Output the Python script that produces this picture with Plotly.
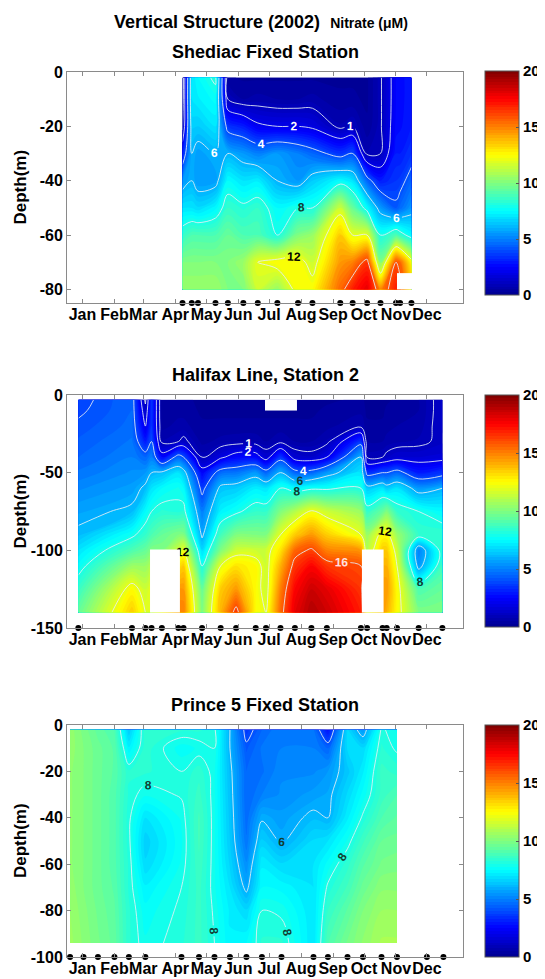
import plotly.graph_objects as go

# ---------------- shared ----------------
MONTHS = ["Jan", "Feb", "Mar", "Apr", "May", "Jun", "Jul", "Aug", "Sep", "Oct", "Nov", "Dec"]
MONTH_TICKS = [15, 46, 74, 105, 135, 166, 196, 227, 258, 288, 319, 349]  # day of year
LEVELS = [1, 2, 4, 6, 8, 12, 16]
CBAR_TICKS = [0, 5, 10, 15, 20]

# ---------------- Shediac Fixed Station ----------------
shediac_days = [112, 121, 127, 144, 156, 171, 185, 204, 224, 238, 265, 277, 291, 304, 319, 323, 334]
shediac_depths = [-2, -10, -20, -30, -40, -50, -60, -70, -80]
shediac_profiles = [
    [0.3, 0.4, 0.7, 3.0, 5.5, 7.0, 8.5, 10.0, 10.5],
    [7.0, 7.0, 6.6, 6.0, 6.0, 7.0, 9.0, 10.0, 10.5],
    [7.5, 7.2, 6.5, 5.6, 5.5, 6.8, 9.0, 10.0, 10.5],
    [8.2, 7.6, 7.0, 6.0, 5.6, 7.4, 9.0, 10.0, 10.5],
    [0.3, 1.0, 3.5, 6.0, 7.5, 8.5, 9.5, 10.0, 10.0],
    [0.2, 0.5, 3.0, 5.5, 7.0, 8.2, 9.0, 10.5, 10.0],
    [0.2, 0.6, 2.2, 5.0, 7.2, 8.5, 9.0, 12.0, 11.5],
    [0.2, 0.5, 2.0, 5.5, 6.0, 7.5, 8.0, 12.5, 10.5],
    [0.2, 0.5, 2.0, 5.0, 5.5, 8.0, 10.0, 12.5, 12.5],
    [0.2, 0.6, 1.8, 4.5, 6.5, 8.0, 10.5, 11.5, 12.5],
    [0.2, 0.3, 0.8, 3.5, 7.5, 11.5, 13.5, 14.5, 15.5],
    [0.2, 0.3, 1.0, 4.0, 7.0, 9.5, 12.0, 15.0, 17.0],
    [0.2, 0.2, 0.3, 0.8, 4.5, 7.5, 12.0, 16.5, 18.0],
    [0.9, 0.9, 0.9, 1.0, 3.0, 5.5, 8.0, 10.0, 15.0],
    [2.5, 2.5, 2.6, 3.0, 3.5, 4.2, 9.0, 16.0, 17.0],
    [2.6, 2.6, 2.7, 3.0, 3.6, 4.6, 8.5, 15.5, 16.5],
    [3.0, 3.0, 3.0, 3.5, 4.5, 5.5, 7.5, 12.5, 13.0],
]
shediac_samples = [112, 121, 127, 144, 156, 171, 185, 204, 224, 238, 265, 277, 291, 304, 319, 323, 334]
shediac_gaps = [(320, 335, -80, -74)]
shediac_yticks = [0, -20, -40, -60, -80]
shediac_ylabels = ["0", "-20", "-40", "-60", "-80"]

# ---------------- Halifax Line, Station 2 ----------------
halifax_days = [11, 63, 76, 82, 92, 108, 113, 131, 149, 164, 183, 193, 207, 221, 237, 252,
                285, 291, 306, 310, 320, 341, 364]
halifax_depths = [-3, -10, -20, -30, -40, -50, -60, -75, -90, -100, -110, -125, -140]
halifax_profiles = [
    [3.8, 3.9, 4.1, 4.3, 4.5, 4.8, 5.2, 5.7, 6.2, 7.0, 7.6, 8.6, 9.5],
    [4.5, 4.5, 4.6, 4.8, 5.0, 5.3, 5.6, 6.2, 7.8, 9.0, 10.5, 12.5, 13.5],
    [0.8, 1.3, 2.0, 3.0, 4.5, 5.5, 6.2, 7.5, 8.5, 9.5, 10.5, 11.5, 12.0],
    [3.5, 3.5, 3.5, 4.0, 5.0, 6.0, 7.0, 8.0, 9.0, 10.0, 11.0, 12.0, 12.0],
    [0.3, 0.3, 0.4, 0.8, 2.5, 6.2, 7.5, 8.3, 9.5, 10.0, 11.0, 12.0, 13.0],
    [0.3, 0.4, 0.6, 1.0, 4.5, 7.0, 7.8, 8.2, 10.0, 11.5, 13.0, 14.5, 15.0],
    [0.3, 0.4, 0.6, 1.2, 4.0, 6.5, 7.5, 8.3, 10.0, 12.0, 13.5, 14.5, 15.0],
    [0.2, 0.2, 0.3, 0.4, 0.9, 2.5, 3.6, 5.0, 5.8, 6.8, 8.0, 9.5, 10.0],
    [0.2, 0.2, 0.3, 0.6, 1.8, 4.6, 6.3, 7.3, 8.8, 10.0, 12.0, 13.5, 14.0],
    [0.2, 0.2, 0.3, 0.7, 2.5, 4.8, 6.5, 7.8, 10.0, 11.5, 13.0, 14.5, 16.5],
    [0.2, 0.2, 0.3, 0.7, 2.5, 5.5, 7.2, 8.5, 10.0, 11.5, 12.5, 12.5, 12.5],
    [0.2, 0.2, 0.3, 0.5, 1.5, 4.5, 7.0, 8.5, 10.0, 11.5, 11.5, 11.5, 12.0],
    [0.2, 0.2, 0.3, 0.8, 3.5, 6.0, 8.0, 10.0, 12.0, 13.0, 14.0, 15.0, 15.5],
    [0.2, 0.2, 0.3, 0.5, 1.5, 4.5, 7.5, 11.0, 13.5, 15.5, 16.5, 17.5, 18.0],
    [0.2, 0.2, 0.3, 0.5, 1.3, 4.5, 7.8, 12.2, 14.5, 16.2, 17.5, 18.5, 19.0],
    [0.2, 0.3, 0.4, 0.8, 2.0, 5.5, 7.8, 11.5, 13.5, 15.0, 16.5, 18.0, 18.5],
    [0.3, 0.4, 0.8, 3.5, 6.0, 7.0, 8.0, 10.5, 12.0, 14.5, 16.0, 16.5, 17.0],
    [0.2, 0.2, 0.3, 0.5, 0.9, 3.5, 6.5, 8.5, 10.5, 11.0, 12.0, 13.0, 13.0],
    [0.2, 0.2, 0.3, 0.5, 1.0, 4.0, 7.0, 9.5, 12.5, 13.5, 14.0, 14.5, 14.5],
    [0.2, 0.3, 0.4, 0.6, 1.2, 4.0, 6.5, 10.0, 12.5, 13.5, 14.0, 14.5, 14.0],
    [0.3, 0.4, 0.5, 0.7, 1.5, 4.5, 7.0, 8.5, 10.5, 11.5, 12.0, 12.5, 12.5],
    [0.5, 0.5, 0.6, 0.8, 1.5, 3.0, 5.5, 8.0, 8.5, 5.0, 5.5, 9.0, 10.0],
    [1.3, 1.3, 1.3, 1.2, 1.6, 3.5, 6.0, 7.5, 8.5, 8.5, 8.8, 9.5, 10.0],
]
halifax_samples = [11, 63, 76, 82, 92, 108, 113, 131, 149, 164, 183, 193, 207, 221, 237, 252,
                   285, 291, 306, 310, 320, 341, 364]
halifax_gaps = [(80.5, 109.5, -140, -99.5), (286, 307, -140, -99.5), (192, 223, -10, -3)]
halifax_yticks = [0, -50, -100, -150]
halifax_ylabels = ["0", "-50", "-100", "-150"]

# ---------------- Prince 5 Fixed Station ----------------
prince_samples = [3, 16, 30, 46, 60, 76, 111, 128, 143, 158, 174, 189, 208, 239, 253, 272,
                  287, 305, 320, 349, 365]
prince_days = [3, 16, 30, 46, 60, 76, 111, 128, 143, 158, 174, 189, 208, 239, 253, 272, 287, 305, 320]
prince_depths = [-2, -10, -20, -30, -40, -50, -60, -70, -80, -94]
prince_profiles = [
    [10.4, 10.4, 10.3, 10.3, 10.3, 10.3, 10.3, 10.4, 10.5, 10.6],
    [9.9, 10.0, 10.0, 10.0, 10.0, 10.0, 10.0, 10.0, 10.1, 10.2],
    [9.4, 9.6, 9.6, 9.6, 9.6, 9.6, 9.6, 9.6, 9.7, 9.8],
    [9.0, 9.2, 9.2, 9.1, 9.1, 9.1, 9.1, 9.2, 9.3, 9.4],
    [6.5, 7.3, 8.3, 8.2, 8.1, 8.1, 8.2, 8.2, 8.3, 8.3],
    [8.5, 8.4, 8.3, 7.8, 7.0, 6.6, 6.8, 7.3, 7.6, 7.8],
    [8.3, 7.6, 8.0, 8.05, 7.8, 7.7, 7.8, 8.0, 8.1, 8.2],
    [8.3, 7.8, 8.4, 8.6, 8.8, 8.8, 8.7, 8.6, 8.6, 8.6],
    [8.1, 8.0, 7.8, 7.8, 7.8, 7.8, 7.8, 7.8, 7.9, 8.0],
    [6.0, 6.0, 6.2, 6.3, 6.4, 6.5, 6.7, 7.0, 7.2, 7.3],
    [3.6, 4.2, 4.5, 4.5, 4.6, 4.8, 5.3, 5.8, 6.8, 7.5],
    [4.5, 4.8, 4.7, 5.0, 5.9, 6.6, 7.2, 7.5, 8.0, 8.3],
    [5.0, 5.0, 5.2, 5.3, 5.6, 5.9, 6.8, 7.4, 7.9, 8.3],
    [4.8, 5.0, 5.2, 5.6, 6.2, 6.8, 7.0, 7.0, 7.0, 7.0],
    [2.8, 4.5, 5.5, 5.8, 6.0, 7.0, 7.6, 8.1, 8.5, 9.0],
    [6.8, 6.8, 6.4, 6.8, 7.2, 7.8, 8.4, 8.8, 9.3, 9.8],
    [5.5, 6.8, 7.2, 7.6, 8.1, 8.7, 9.2, 9.6, 10.0, 10.3],
    [8.1, 8.3, 8.6, 8.6, 9.0, 9.5, 9.8, 10.2, 10.5, 10.8],
    [7.7, 7.9, 8.4, 9.0, 9.3, 9.6, 9.9, 10.2, 10.5, 10.8],
]
prince_gaps = []
prince_yticks = [0, -20, -40, -60, -80, -100]
prince_ylabels = ["0", "-20", "-40", "-60", "-80", "-100"]

# ---------------- styling ----------------
# The page body keeps its default 8px margin, so the figure is drawn 8px in from
# the window's top-left corner; the canvas is sized so it ends at the window edge.
OFFSET = 8
W, H = 545 - OFFSET, 979 - OFFSET
FONT = "Liberation Sans, Arial, sans-serif"
JET = [[0.0, "#000090"], [0.125, "#0000ff"], [0.375, "#00ffff"],
       [0.625, "#ffff00"], [0.875, "#ff0000"], [1.0, "#800000"]]
AXIS_COLOR = "#8a8a8a"


def px_x(p):
    return (p - OFFSET) / W


def px_y(p):
    return 1 - (p - OFFSET) / H


panels = [
    dict(name="Shediac Fixed Station", days=shediac_days, depths=shediac_depths,
         profiles=shediac_profiles, samples=shediac_samples, gaps=shediac_gaps,
         yrange=[-85, 0], yticks=shediac_yticks, ylabels=shediac_ylabels,
         top=72, bottom=303, cb=(71, 295), title_y=52,
         label_colors={1: "white", 2: "white", 4: "white", 6: "white", 8: "#123c30",
                       12: "black", 16: "#1a1a1a"}),
    dict(name="Halifax Line, Station 2", days=halifax_days, depths=halifax_depths,
         profiles=halifax_profiles, samples=halifax_samples, gaps=halifax_gaps,
         yrange=[-150, 0], yticks=halifax_yticks, ylabels=halifax_ylabels,
         top=395, bottom=628, cb=(395, 627), title_y=375,
         label_colors={1: "white", 2: "white", 4: "white", 6: "#123c30", 8: "#123c30",
                       12: "black", 16: "#ffe0e0"}),
    dict(name="Prince 5 Fixed Station", days=prince_days, depths=prince_depths,
         profiles=prince_profiles, samples=prince_samples, gaps=prince_gaps,
         yrange=[-100, 0], yticks=prince_yticks, ylabels=prince_ylabels,
         top=725, bottom=957, cb=(725, 957), title_y=705,
         label_colors={1: "white", 2: "white", 4: "white", 6: "#123c30", 8: "#123c30",
                       12: "black", 16: "black"}),
]

fig = go.Figure()
shapes = []
annotations = []
layout_axes = {}

for i, p in enumerate(panels, start=1):
    xa = "x" if i == 1 else f"x{i}"
    ya = "y" if i == 1 else f"y{i}"
    z = [list(row) for row in zip(*p["profiles"])]

    cb_top, cb_bot = p["cb"]
    fig.add_trace(go.Contour(
        x=p["days"], y=p["depths"], z=z, xaxis=xa, yaxis=ya,
        colorscale=JET, zmin=0, zmax=20, zauto=False,
        autocontour=False,
        contours=dict(start=0, end=20, size=0.25, coloring="fill", showlines=False),
        line=dict(width=0),
        hoverinfo="skip",
        colorbar=dict(
            x=px_x(485), xanchor="left", xpad=0,
            y=px_y((cb_top + cb_bot) / 2), yanchor="middle", ypad=0,
            len=cb_bot - cb_top, lenmode="pixels",
            thickness=34, thicknessmode="pixels",
            outlinecolor="#555555", outlinewidth=1,
            tickmode="array", tickvals=CBAR_TICKS, ticktext=[str(v) for v in CBAR_TICKS],
            ticks="inside", ticklen=3, tickcolor="#555555",
            tickfont=dict(family=FONT, size=15, color="black", weight="bold"),
        ),
    ))

    for lev in LEVELS:
        fig.add_trace(go.Contour(
            x=p["days"], y=p["depths"], z=z, xaxis=xa, yaxis=ya,
            autocontour=False, showscale=False,
            contours=dict(start=lev, end=lev, size=1, coloring="none", showlabels=True,
                          labelfont=dict(family=FONT, size=12, weight="bold",
                                         color=p["label_colors"][lev])),
            line=dict(color="rgba(230,238,245,0.85)", width=1),
            hoverinfo="skip",
        ))

    fig.add_trace(go.Scatter(
        x=p["samples"], y=[p["yrange"][0]] * len(p["samples"]), xaxis=xa, yaxis=ya,
        mode="markers", marker=dict(color="black", size=6, line=dict(width=0)),
        cliponaxis=False, hoverinfo="skip", showlegend=False,
    ))

    for (x0, x1, y0, y1) in p["gaps"]:
        shapes.append(dict(type="rect", xref=xa, yref=ya, x0=x0, x1=x1, y0=y0, y1=y1,
                           fillcolor="white", line=dict(width=0), layer="above"))

    axis_common = dict(showline=True, linecolor=AXIS_COLOR, linewidth=1, mirror="ticks",
                       ticks="inside", ticklen=4, tickcolor=AXIS_COLOR, showgrid=False,
                       zeroline=False, automargin=False,
                       tickfont=dict(family=FONT, size=16, color="black", weight="bold"))
    layout_axes["xaxis" if i == 1 else f"xaxis{i}"] = dict(
        domain=[px_x(67), px_x(463)], range=[0, 384], anchor=ya,
        tickmode="array", tickvals=MONTH_TICKS, ticktext=MONTHS, tickangle=0,
        ticklabelstandoff=-3, **axis_common)
    layout_axes["yaxis" if i == 1 else f"yaxis{i}"] = dict(
        domain=[px_y(p["bottom"]), px_y(p["top"])], range=p["yrange"], anchor=xa,
        tickmode="array", tickvals=p["yticks"], ticktext=p["ylabels"],
        **axis_common)

    annotations.append(dict(
        text=f"<b>{p['name']}</b>", x=px_x(265), y=px_y(p["title_y"]), xref="paper",
        yref="paper", xanchor="center", yanchor="middle", showarrow=False,
        font=dict(family=FONT, size=18, color="black")))
    annotations.append(dict(
        text="<b>Depth(m)</b>", x=px_x(20), y=px_y((p["top"] + p["bottom"]) / 2),
        xref="paper", yref="paper", xanchor="center", yanchor="middle", textangle=-90,
        showarrow=False, font=dict(family=FONT, size=17, color="black")))

annotations.append(dict(
    text="<b>Vertical Structure (2002)</b>  <span style='font-size:14px'><b>Nitrate (μM)</b></span>",
    x=px_x(261), y=px_y(22), xref="paper", yref="paper", xanchor="center",
    yanchor="middle", showarrow=False, font=dict(family=FONT, size=18, color="black")))

fig.update_layout(
    width=W, height=H, margin=dict(l=0, r=0, t=0, b=0, pad=0, autoexpand=False),
    paper_bgcolor="white", plot_bgcolor="white", showlegend=False,
    font=dict(family=FONT, color="black"),
    shapes=shapes, annotations=annotations, **layout_axes)

fig.write_html("out.html")
